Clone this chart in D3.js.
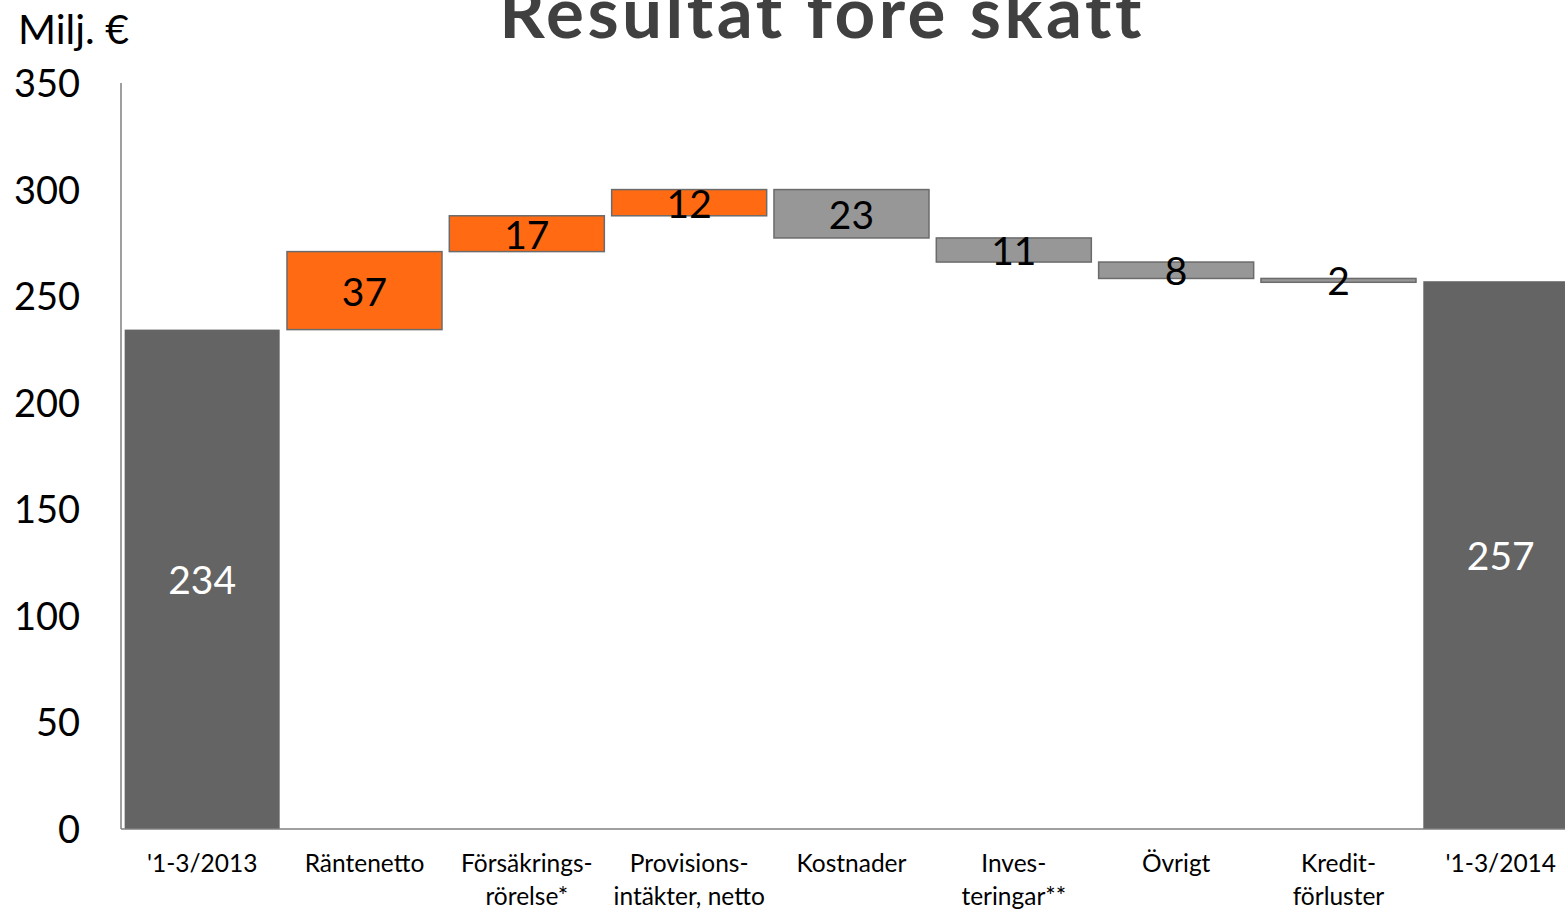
<!DOCTYPE html>
<html lang="sv">
<head>
<meta charset="UTF-8">
<title>Resultat före skatt</title>
<script src="https://d3js.org/d3.v7.min.js"></script>
<style>
  body { margin: 0; background: #fff; }
  svg { display: block; font-family: Lato, "Open Sans", sans-serif; }
</style>
</head>
<body>
<div id="chart"></div>
<script>
// categories (multi-line labels)
var categories = [
  ["'1-3/2013"], ["Räntenetto"], ["Försäkrings-", "rörelse*"],
  ["Provisions-", "intäkter, netto"], ["Kostnader"], ["Inves-", "teringar**"],
  ["Övrigt"], ["Kredit-", "förluster"], ["'1-3/2014"]
];
// first and last are totals, the rest are changes
var startValue = 234.3;
var changes = [36.6, 16.8, 12.3, -22.7, -11.3, -7.7, -1.8];
var endValue = 257;
var yTicks = [0, 50, 100, 150, 200, 250, 300, 350];

var W = 1565, H = 911;
var x0 = 121, y0 = 829, yTop = 83;

var svg = d3.select("#chart").append("svg")
  .attr("width", W).attr("height", H);

// build waterfall rows
var rows = [];
rows.push({ cat: 0, lo: 0, hi: startValue, label: Math.round(startValue), type: "total" });
var run = startValue;
changes.forEach(function(c, i) {
  var a = run, b = run + c;
  rows.push({ cat: i + 1, lo: Math.min(a, b), hi: Math.max(a, b),
              label: Math.round(Math.abs(c)), type: c >= 0 ? "up" : "down" });
  run = b;
});
rows.push({ cat: 8, lo: 0, hi: endValue, label: endValue, type: "total" });

var x = d3.scaleBand()
  .domain(d3.range(categories.length))
  .range([x0, x0 + 9 * 162.33])
  .paddingInner(0.045).paddingOuter(0.0225);

var y = d3.scaleLinear().domain([0, 350]).range([y0, yTop]);

var fill = { total: "#646464", up: "#ff6a13", down: "#979797" };

svg.selectAll("rect.bar")
  .data(rows).enter().append("rect")
  .attr("class", "bar")
  .attr("x", function(d) { return x(d.cat); })
  .attr("width", x.bandwidth())
  .attr("y", function(d) { return y(d.hi); })
  .attr("height", function(d) { return Math.max(y(d.lo) - y(d.hi), 1); })
  .attr("fill", function(d) { return fill[d.type]; })
  .attr("stroke", function(d) { return d.type === "total" ? "none" : "#6b6b6b"; })
  .attr("stroke-width", 1.5);

svg.selectAll("text.val")
  .data(rows).enter().append("text")
  .attr("class", "val")
  .attr("x", function(d) { return x(d.cat) + x.bandwidth() / 2; })
  .attr("y", function(d) { return (y(d.lo) + y(d.hi)) / 2 + 15; })
  .attr("text-anchor", "middle")
  .attr("font-size", 39)
  .attr("fill", function(d) { return d.type === "total" ? "#ffffff" : "#000000"; })
  .text(function(d) { return d.label; });

// axes
svg.append("line")
  .attr("x1", x0).attr("x2", x0).attr("y1", yTop).attr("y2", y0)
  .attr("stroke", "#7f7f7f").attr("stroke-width", 1.5);
svg.append("line")
  .attr("x1", x0).attr("x2", W).attr("y1", y0).attr("y2", y0)
  .attr("stroke", "#7f7f7f").attr("stroke-width", 1.5);

svg.selectAll("text.ytick")
  .data(yTicks).enter().append("text")
  .attr("class", "ytick")
  .attr("x", 80)
  .attr("y", function(d) { return y(d) + 14; })
  .attr("text-anchor", "end")
  .attr("font-size", 38)
  .attr("fill", "#000")
  .text(function(d) { return d; });

var xl = svg.selectAll("text.xlab")
  .data(categories).enter().append("text")
  .attr("class", "xlab")
  .attr("text-anchor", "middle")
  .attr("font-size", 24.5)
  .attr("fill", "#000");
xl.selectAll("tspan")
  .data(function(d, i) { return d.map(function(s) { return { s: s, i: i }; }); })
  .enter().append("tspan")
  .attr("x", function(d) { return x(d.i) + x.bandwidth() / 2; })
  .attr("y", function(d, j) { return 872 + j * 33; })
  .text(function(d) { return d.s; });

// titles
svg.append("text")
  .attr("x", 18).attr("y", 44)
  .attr("font-size", 41)
  .attr("fill", "#000")
  .text("Milj. €");

svg.append("text")
  .attr("x", 822).attr("y", 38)
  .attr("text-anchor", "middle")
  .attr("font-size", 71)
  .attr("letter-spacing", 3.5)
  .attr("font-weight", "bold")
  .attr("fill", "#404040")
  .text("Resultat före skatt");
</script>
</body>
</html>
